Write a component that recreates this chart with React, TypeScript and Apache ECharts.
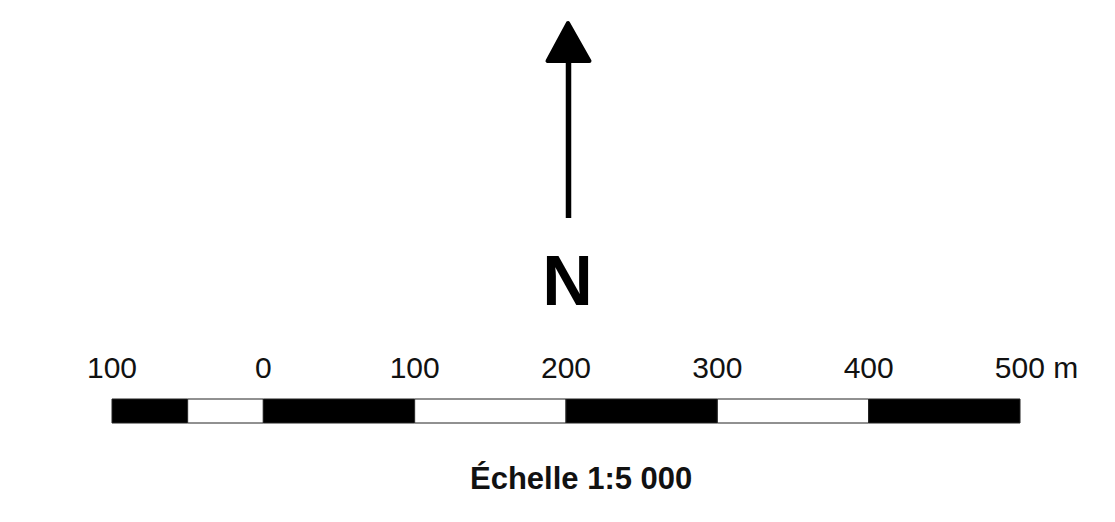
import React, { useEffect, useRef } from "react";
import * as echarts from "echarts";

// Scale bar data (metres)
const tickValues = [-100, 0, 100, 200, 300, 400, 500];
const segStart = [-100, -50, 0, 100, 200, 300, 400];
const segEnd = [-50, 0, 100, 200, 300, 400, 500];
const segFill = ["#000000", "#ffffff", "#000000", "#ffffff", "#000000", "#ffffff", "#000000"];
const unitLabel = "m";
const scaleTitle = "Échelle 1:5 000";
const northLabel = "N";

const FONT = "'Liberation Sans', Arial, Helvetica, sans-serif";

export default function App() {
  const ref = useRef<HTMLDivElement>(null);

  useEffect(() => {
    if (!ref.current) return;
    const chart = echarts.init(ref.current, undefined, { renderer: "svg" });
    const data = segStart.map((s, i) => [s, segEnd[i]]);
    const minV = tickValues[0];
    const maxV = tickValues[tickValues.length - 1];

    chart.setOption({
      animation: false,
      backgroundColor: "#ffffff",
      title: {
        text: scaleTitle,
        left: 470,
        top: 463,
        textStyle: { fontFamily: FONT, fontSize: 31, fontWeight: "bold", color: "#111" },
        padding: 0,
      },
      grid: { left: 112, right: 95, top: 399, height: 24 },
      xAxis: {
        type: "value",
        min: minV,
        max: maxV,
        interval: 100,
        position: "top",
        axisLine: { show: false },
        axisTick: { show: false },
        splitLine: { show: false },
        axisLabel: {
          margin: 17,
          fontSize: 30,
          fontFamily: FONT,
          color: "#111",
          formatter: (v: number) =>
            v === maxV ? `{u|${Math.abs(v)} ${unitLabel}}` : `${Math.abs(v)}`,
          rich: {
            u: { fontSize: 30, fontFamily: FONT, color: "#111", padding: [0, 0, 0, 33] },
          },
        },
      },
      yAxis: { type: "value", min: 0, max: 1, show: false },
      series: [
        {
          type: "custom",
          data,
          encode: { x: [0, 1] },
          renderItem: (params: any, api: any) => {
            const p0 = api.coord([api.value(0), 1]);
            const p1 = api.coord([api.value(1), 0]);
            return {
              type: "rect",
              shape: { x: p0[0], y: p0[1], width: p1[0] - p0[0], height: p1[1] - p0[1] },
              style: { fill: segFill[params.dataIndex], stroke: "#222", lineWidth: 1 },
            };
          },
        },
      ],
      graphic: [
        {
          type: "polygon",
          shape: { points: [[568, 23], [547.5, 61], [589.5, 61]] },
          style: { fill: "#000", stroke: "#000", lineWidth: 4, lineJoin: "round" },
        },
        {
          type: "line",
          shape: { x1: 568.5, y1: 60, x2: 568.5, y2: 218 },
          style: { stroke: "#000", lineWidth: 5.5 },
        },
        {
          type: "text",
          x: 567.5,
          y: 281,
          style: {
            text: northLabel,
            fontFamily: FONT,
            fontSize: 70,
            fontWeight: "bold",
            fill: "#000",
            align: "center",
            verticalAlign: "middle",
          },
        },
      ],
    });

    return () => chart.dispose();
  }, []);

  return (
    <div
      ref={ref}
      style={{ position: "fixed", left: 0, top: 0, width: 1115, height: 522, background: "#fff" }}
    />
  );
}
